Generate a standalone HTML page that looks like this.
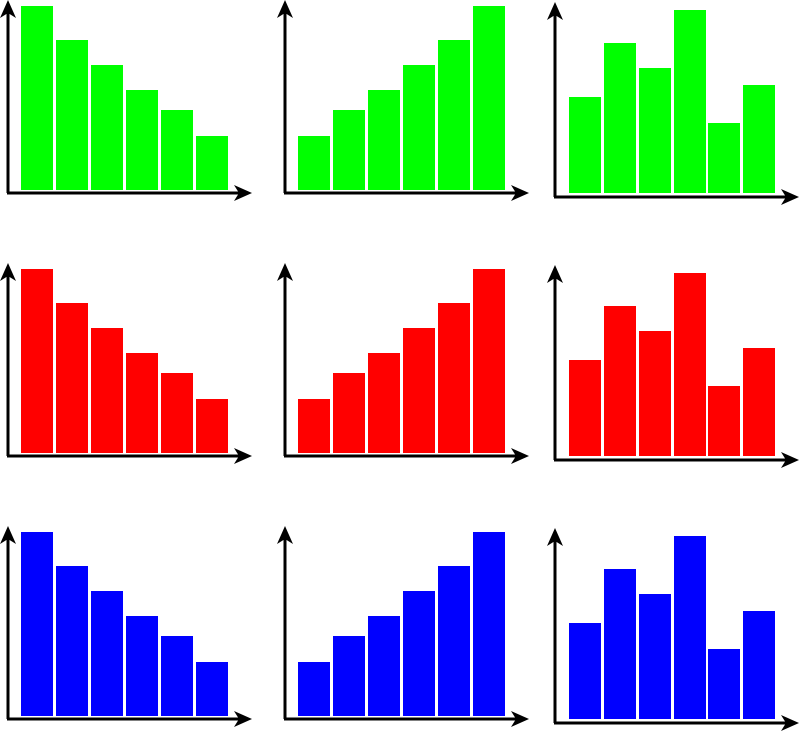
<!DOCTYPE html>
<html><head><style>html,body{margin:0;padding:0;background:#fff}svg{display:block}</style></head>
<body>
<svg width="800" height="732" viewBox="0 0 800 732" xmlns="http://www.w3.org/2000/svg">
<defs>
<g id="ax1">
<line x1="8" y1="12" x2="8" y2="193" stroke="#000" stroke-width="3"/>
<line x1="7" y1="193" x2="240" y2="193" stroke="#000" stroke-width="3"/>
<polygon points="8,0 0,18 8,13 16,18" fill="#000"/>
<polygon points="252,193 234,185 239,193 234,201" fill="#000"/>
</g>
<g id="ax2">
<line x1="285" y1="12" x2="285" y2="193" stroke="#000" stroke-width="3"/>
<line x1="284" y1="193" x2="517" y2="193" stroke="#000" stroke-width="3"/>
<polygon points="285,0 277,18 285,13 293,18" fill="#000"/>
<polygon points="529,193 511,185 516,193 511,201" fill="#000"/>
</g>
<g id="ax3">
<line x1="555" y1="14" x2="555" y2="197" stroke="#000" stroke-width="3"/>
<line x1="554" y1="197" x2="787" y2="197" stroke="#000" stroke-width="3"/>
<polygon points="555,2 547,20 555,15 563,20" fill="#000"/>
<polygon points="799,197 781,189 786,197 781,205" fill="#000"/>
</g>
<g id="b1">
<rect x="21" y="6" width="32" height="184"/><rect x="56" y="40" width="32" height="150"/>
<rect x="91" y="65" width="32" height="125"/><rect x="126" y="90" width="32" height="100"/>
<rect x="161" y="110" width="32" height="80"/><rect x="196" y="136" width="32" height="54"/>
</g>
<g id="b2">
<rect x="298" y="136" width="32" height="54"/><rect x="333" y="110" width="32" height="80"/>
<rect x="368" y="90" width="32" height="100"/><rect x="403" y="65" width="32" height="125"/>
<rect x="438" y="40" width="32" height="150"/><rect x="473" y="6" width="32" height="184"/>
</g>
<g id="b3">
<rect x="569" y="97" width="32" height="96"/><rect x="604" y="43" width="32" height="150"/>
<rect x="639" y="68" width="32" height="125"/><rect x="674" y="10" width="32" height="183"/>
<rect x="708" y="123" width="32" height="70"/><rect x="743" y="85" width="32" height="108"/>
</g>
<g id="all"><use href="#b1"/><use href="#b2"/><use href="#b3"/><use href="#ax1"/><use href="#ax2"/><use href="#ax3"/></g>
</defs>
<g fill="#00ff00"><use href="#all"/></g>
<g fill="#ff0000" transform="translate(0,263)"><use href="#all"/></g>
<g fill="#0000ff" transform="translate(0,526)"><use href="#all"/></g>
</svg>
</body></html>
